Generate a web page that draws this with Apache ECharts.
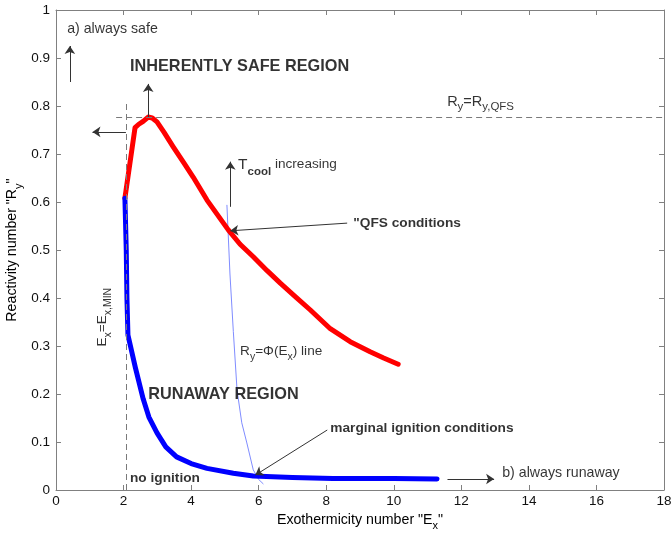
<!DOCTYPE html>
<html>
<head>
<meta charset="utf-8">
<script src="https://cdn.jsdelivr.net/npm/echarts@6/dist/echarts.min.js"></script>
<style>
  html, body { margin: 0; padding: 0; background: #fff; }
  #chart { width: 672px; height: 533px; }
</style>
</head>
<body>
<div id="chart"></div>
<script>
// Axis ranges and tick steps
const xRange = [0, 18];
const xStep = 2;
const yRange = [0, 1];
const yStep = 0.1;

// QFS boundary (upper branch) : [Ex, Ry]
const qfsCurve = [
  [2.04, 0.608], [2.34, 0.755], [2.45, 0.762], [2.58, 0.768], [2.73, 0.777],
  [2.85, 0.775], [2.99, 0.767], [3.2, 0.745], [3.47, 0.715], [3.8, 0.68],
  [4.06, 0.652], [4.47, 0.604], [5.10, 0.542], [5.45, 0.512], [5.84, 0.486],
  [6.25, 0.457], [6.64, 0.431], [7.1, 0.402], [7.53, 0.375], [8.12, 0.336],
  [8.71, 0.309], [9.30, 0.288], [9.7, 0.275], [10.13, 0.262]
];

// Marginal ignition boundary (lower branch) : [Ex, Ry]
const ignitionCurve = [
  [2.04, 0.608], [2.08, 0.5], [2.1, 0.4], [2.13, 0.323], [2.35, 0.255],
  [2.58, 0.19], [2.75, 0.152], [2.99, 0.119], [3.25, 0.09], [3.57, 0.069],
  [4.0, 0.055], [4.47, 0.045], [5.25, 0.035], [5.84, 0.029], [7.0, 0.026],
  [8.2, 0.024], [10.0, 0.024], [11.28, 0.023]
];

// Ry = Φ(Ex) line : [Ex, Ry]
const phiLine = [
  [5.06, 0.594], [5.15, 0.45], [5.25, 0.33], [5.36, 0.208], [5.5, 0.14],
  [5.65, 0.098], [5.84, 0.042], [6.0, 0.022], [6.14, 0.0125]
];

// Reference levels
const ryQfs = 0.777;
const exMin = 2.07;
const qfsLineStartX = 1.78;
const exMinLineTopY = 0.8125;

// Annotation arrows : [[fromEx, fromRy], [toEx, toRy]]
const arrows = [
  [[0.41, 0.85], [0.41, 0.925]],
  [[2.73, 0.777], [2.73, 0.846]],
  [[2.07, 0.746], [1.08, 0.746]],
  [[5.16, 0.59], [5.16, 0.684]],
  [[8.62, 0.556], [5.16, 0.540]],
  [[8.03, 0.125], [5.90, 0.031]],
  [[11.59, 0.023], [12.97, 0.023]]
];

// Annotation texts : [Ex, Ry, rich text, kind]
const notes = [
  [0.33, 0.96, '{n|a) always safe}', 'plain'],
  [2.19, 0.883, '{b|INHERENTLY SAFE REGION}', 'plain'],
  [11.58, 0.808, '{m2|R}{s2|y}{m2|=R}{s2|y,QFS}', 'sub'],
  [5.39, 0.675, '{t|T}{sb|cool}{m| increasing}', 'sub'],
  [8.8, 0.556, '{c|"QFS conditions}', 'plain'],
  [5.45, 0.2875, '{m|R}{s|y}{m|=Φ(E}{s|x}{m|) line}', 'sub'],
  [2.73, 0.198, '{b|RUNAWAY REGION}', 'plain'],
  [8.12, 0.129, '{c|marginal ignition conditions}', 'plain'],
  [2.19, 0.025, '{c|no ignition}', 'plain'],
  [13.21, 0.035, '{n|b) always runaway}', 'plain'],
  [1.43, 0.36, '{m|E}{s|x}{m|=E}{s|x,MIN}', 'vertical']
];

const FONT = '"Liberation Sans", Arial, Helvetica, sans-serif';
const TXT = '#000';
// main glyphs hang from the line top, subscripts sit on the (slightly lower) line bottom
const richStyles = {
  n: { fontSize: 14.2, color: TXT, fontFamily: FONT },
  b: { fontSize: 16.3, fontWeight: 'bold', color: TXT, fontFamily: FONT },
  c: { fontSize: 13.7, fontWeight: 'bold', color: TXT, fontFamily: FONT },
  m: { fontSize: 13.6, color: TXT, fontFamily: FONT, verticalAlign: 'top', lineHeight: 15 },
  m2: { fontSize: 14.5, color: TXT, fontFamily: FONT, verticalAlign: 'top', lineHeight: 16 },
  am: { fontSize: 14.2, color: TXT, fontFamily: FONT, verticalAlign: 'top', lineHeight: 16 },
  t: { fontSize: 15.5, color: TXT, fontFamily: FONT, verticalAlign: 'top', lineHeight: 16 },
  s: { fontSize: 10.5, color: TXT, fontFamily: FONT, verticalAlign: 'bottom', lineHeight: 18 },
  s2: { fontSize: 11.5, color: TXT, fontFamily: FONT, verticalAlign: 'bottom', lineHeight: 19 },
  as: { fontSize: 11, color: TXT, fontFamily: FONT, verticalAlign: 'bottom', lineHeight: 19 },
  sb: { fontSize: 11.5, fontWeight: 'bold', color: TXT, fontFamily: FONT, verticalAlign: 'bottom', lineHeight: 21 }
};

const noteData = notes.map(([x, y, text, kind]) => {
  const label = { show: true, formatter: text, rich: richStyles };
  if (kind === 'vertical') {
    Object.assign(label, { position: 'inside', rotate: 90, align: 'center', verticalAlign: 'middle' });
  } else {
    Object.assign(label, { position: 'right', distance: 0, offset: kind === 'sub' ? [0, 1.5] : [0, 0] });
  }
  return { value: [x, y], label };
});

const arrowLines = arrows.map(([a, b]) => [{ coord: a }, { coord: b }]);

const gray = '#808080';
const boxAxis = (extra) => Object.assign({
  axisLine: { show: true, onZero: false, lineStyle: { color: gray, width: 1 } },
  axisTick: { show: true, inside: true, length: 5, lineStyle: { color: gray } },
  splitLine: { show: false }
}, extra);

const option = {
  animation: false,
  backgroundColor: '#fff',
  textStyle: { fontFamily: FONT },
  grid: { left: 56, right: 8, top: 10, bottom: 43, containLabel: false, outerBoundsMode: 'none' },
  xAxis: [
    boxAxis({
      type: 'value', min: xRange[0], max: xRange[1], interval: xStep, position: 'bottom',
      axisLabel: { fontSize: 13.5, color: '#111', margin: 4, fontFamily: FONT },
      name: '{am|Exothermicity number "E}{as|x}{am|"}',
      nameLocation: 'middle', nameGap: 21,
      nameTextStyle: { rich: richStyles }
    }),
    boxAxis({
      type: 'value', min: xRange[0], max: xRange[1], interval: xStep, position: 'top',
      axisLabel: { show: false }
    })
  ],
  yAxis: [
    boxAxis({
      type: 'value', min: yRange[0], max: yRange[1], interval: yStep, position: 'left',
      axisLabel: {
        fontSize: 13.5, color: '#111', margin: 6, fontFamily: FONT,
        formatter: (v) => (v === 0 || v === 1) ? String(v) : v.toFixed(1)
      },
      name: '{am|Reactivity number "R}{as|y}{am|"}',
      nameLocation: 'middle', nameGap: 32, nameRotate: 90, nameMoveOverlap: false,
      nameTextStyle: { rich: richStyles }
    }),
    boxAxis({
      type: 'value', min: yRange[0], max: yRange[1], interval: yStep, position: 'right',
      axisLabel: { show: false }
    })
  ],
  series: [
    {
      name: 'phi', type: 'line', data: phiLine, symbol: 'none', silent: true,
      lineStyle: { color: '#7f8cff', width: 1 }, z: 2
    },
    {
      name: 'qfs', type: 'line', data: qfsCurve, symbol: 'none', silent: true,
      lineStyle: { color: '#ff0000', width: 5, join: 'round', cap: 'round' }, z: 3
    },
    {
      name: 'ignition', type: 'line', data: ignitionCurve, symbol: 'none', silent: true,
      lineStyle: { color: '#0000ff', width: 5, join: 'round', cap: 'round' }, z: 4
    },
    {
      name: 'guides', type: 'line', data: [], silent: true, z: 1,
      markLine: {
        silent: true, symbol: ['none', 'none'], animation: false,
        label: { show: false },
        lineStyle: { color: '#7a7a7a', width: 1, type: [6, 4] },
        emphasis: { disabled: true },
        data: [
          [{ coord: [qfsLineStartX, ryQfs] }, { coord: [xRange[1], ryQfs] }],
          [{ coord: [exMin, yRange[0]] }, { coord: [exMin, exMinLineTopY] }]
        ]
      }
    },
    {
      name: 'arrows', type: 'line', data: [], silent: true, z: 5,
      markLine: {
        silent: true, symbol: ['none', 'arrow'], symbolSize: 8, animation: false,
        label: { show: false },
        lineStyle: { color: '#333', width: 1, type: 'solid' },
        emphasis: { disabled: true },
        data: arrowLines
      }
    },
    {
      name: 'notes', type: 'scatter', data: noteData, symbolSize: 0, silent: true, z: 6
    }
  ]
};

echarts.init(document.getElementById('chart'), null, { renderer: 'canvas' }).setOption(option);
</script>
</body>
</html>
